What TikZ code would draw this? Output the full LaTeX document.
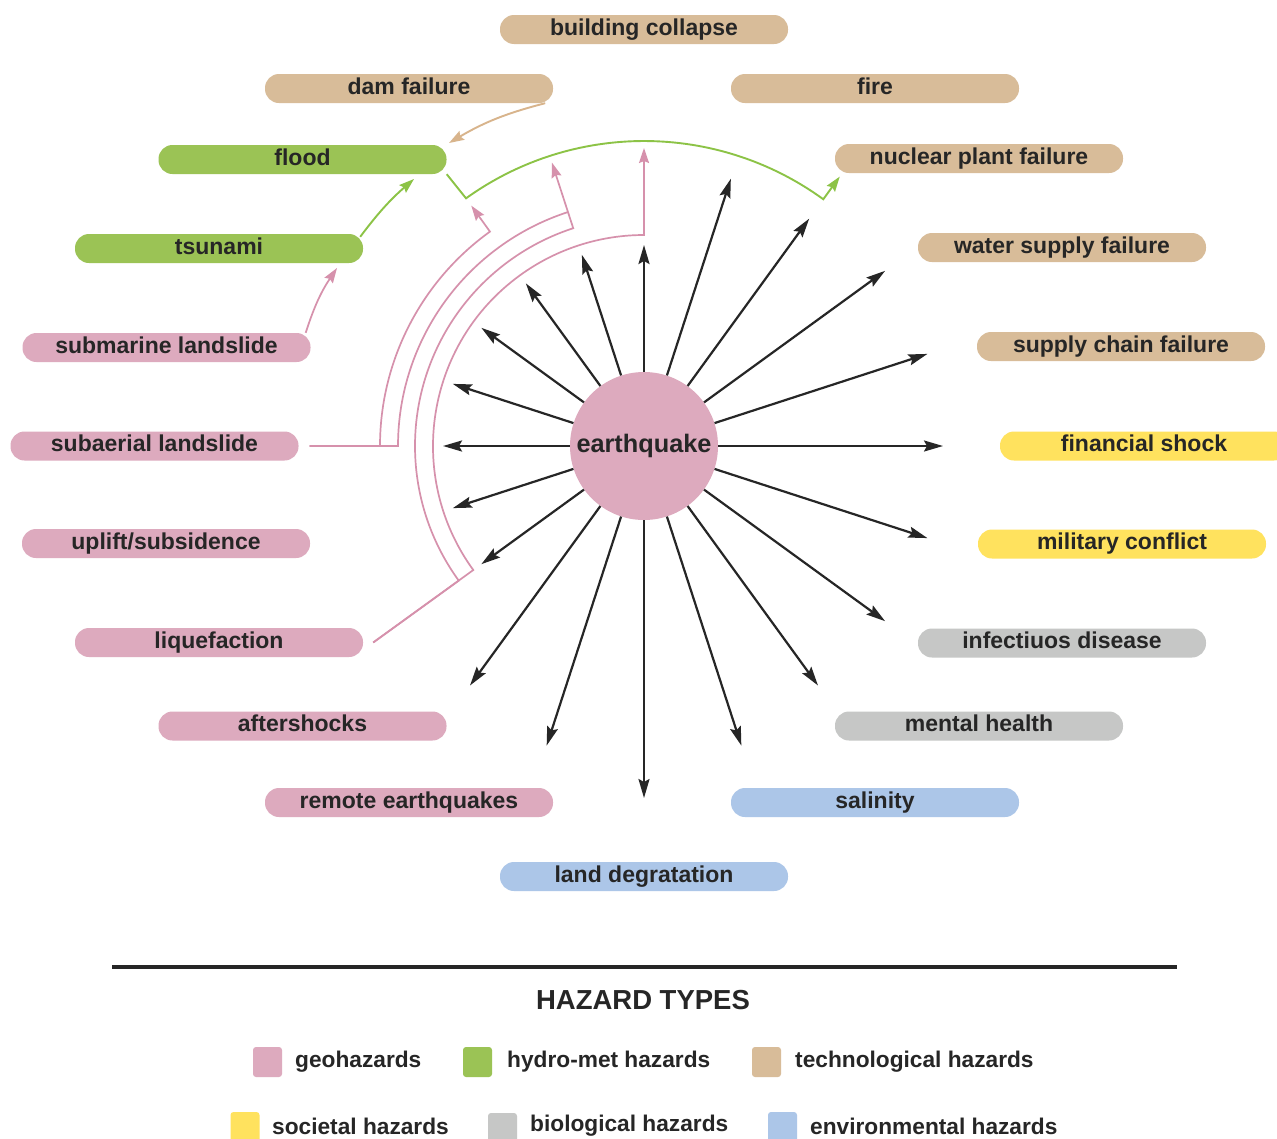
\documentclass[tikz,border=0pt]{standalone}
\usepackage{fontspec}
\setmainfont{Liberation Sans}
\usetikzlibrary{calc,arrows.meta}
\definecolor{pinkc}{RGB}{221,170,190}
\definecolor{greenc}{RGB}{155,195,85}
\definecolor{tanc}{RGB}{216,188,153}
\definecolor{yellowc}{RGB}{255,226,94}
\definecolor{greyc}{RGB}{198,199,198}
\definecolor{bluec}{RGB}{172,198,232}
\definecolor{pinkl}{RGB}{214,145,172}
\definecolor{greenl}{RGB}{140,195,70}
\definecolor{tanl}{RGB}{216,180,140}
\definecolor{txt}{RGB}{38,38,38}
\tikzset{
  hz/.style={rectangle, rounded corners=14pt, minimum width=288pt, minimum height=29pt,
    inner sep=0pt, text=txt, text height=16pt, text depth=4.5pt,
    font=\bfseries\fontsize{23}{26}\selectfont},
  geo/.style={hz, fill=pinkc},
  hyd/.style={hz, fill=greenc},
  tec/.style={hz, fill=tanc},
  soc/.style={hz, fill=yellowc},
  bio/.style={hz, fill=greyc},
  env/.style={hz, fill=bluec},
  blk/.style={draw=txt, line width=2.2pt, -{Stealth[length=19pt,width=11pt,inset=3pt]}},
  ctip/.style={-{Stealth[length=15pt,width=10pt,inset=2pt]}},
  pkl/.style={draw=pinkl, line width=1.7pt},
  grl/.style={draw=greenl, line width=1.9pt},
  tnl/.style={draw=tanl, line width=1.9pt},
  sw/.style={rectangle, rounded corners=3pt, minimum width=29pt, minimum height=30pt, inner sep=0pt},
  lg/.style={text=txt, inner sep=0pt, anchor=base west, font=\bfseries\fontsize{22.7}{26}\selectfont}
}
\begin{document}
\begin{tikzpicture}[x=1pt,y=1pt]
\useasboundingbox[fill=white] (0,0) rectangle (1277,-1138);

% hazard nodes
\node[tec] (bc)   at (644,-29.5)   {building collapse};
\node[tec] (dam)  at (409,-88.5)   {dam failure};
\node[tec] (fire) at (875,-88.5)   {fire};
\node[hyd] (flood) at (302.5,-159.5) {flood};
\node[tec] (npf)  at (979,-158.5)  {nuclear plant failure};
\node[hyd] (tsu)  at (219,-248.5)  {tsunami};
\node[tec] (wsf)  at (1062,-247.5) {water supply failure};
\node[geo] (sml)  at (166.5,-347.5) {submarine landslide};
\node[tec] (scf)  at (1121,-346.5) {supply chain failure};
\node[geo] (sal)  at (154.5,-446)  {subaerial landslide};
\node[soc] (fin)  at (1144,-446)   {financial shock};
\node[geo] (upl)  at (166,-543.5)  {uplift/subsidence};
\node[soc] (mil)  at (1122,-544)   {military conflict};
\node[geo] (liq)  at (219,-642.5)  {liquefaction};
\node[bio] (inf)  at (1062,-643)   {infectiuos disease};
\node[geo] (aft)  at (302.5,-726)  {aftershocks};
\node[bio] (mh)   at (979,-726)    {mental health};
\node[geo] (rem)  at (409,-802.5)  {remote earthquakes};
\node[env] (sali) at (875,-802.5)  {salinity};
\node[env] (ld)   at (644,-876.5)  {land degratation};

% earthquake
\node[circle, fill=pinkc, minimum size=148pt, inner sep=0pt, text=txt,
      font=\bfseries\fontsize{25.3}{30}\selectfont] (E) at (644,-446) {earthquake};

% black radial arrows
\foreach \a/\rr in {0/299,18/298,36/298,54/281,72/281,90/201,108/201,126/201,144/201,162/201,
                    180/201,198/201,216/201,234/296,252/315,270/352,288/315,306/296,324/298,342/298}{
  \coordinate (t\a) at ($(E)+(\a:\rr)$);
  \draw[blk] (E.\a) -- (t\a);
}

% free ends of coloured connectors
\coordinate (pa1) at ($(E)+(125.7:296)$);
\coordinate (pa2) at ($(E)+(108:298)$);
\coordinate (pa3) at ($(E)+(90:298)$);
\coordinate (ga1) at ($(E)+(54:333)$);
\coordinate (pt1) at (337,-268);
\coordinate (gt1) at (414,-179);
\coordinate (dt1) at (449,-143);

% pink connectors
\draw[pkl] ([xshift=11pt]sal.east) -- ($(E)+(180:246)$) arc[start angle=180, end angle=108, radius=246];
\draw[pkl, ctip, pinkl] ([xshift=11pt]sal.east) -- ($(E)+(180:264)$) arc[start angle=180, end angle=125.7, radius=264] -- (pa1);
\draw[pkl, ctip, pinkl] ([xshift=10pt]liq.east) -- ($(E)+(216:229)$) arc[start angle=216, end angle=108, radius=229] -- (pa2);
\draw[pkl, ctip, pinkl] ([xshift=10pt]liq.east) -- ($(E)+(216:211)$) arc[start angle=216, end angle=90, radius=211] -- (pa3);
\draw[pkl, ctip, pinkl] ([xshift=-5pt]sml.north east) to[bend left=8] (pt1);

% green connectors
\draw[grl, ctip, greenl] (tsu.north east) ++(-3,-3) to[bend left=6] (gt1);
\draw[grl, ctip, greenl] (flood.south east) -- ($(E)+(125.7:305)$) arc[start angle=125.7, end angle=54, radius=305] -- (ga1);

% tan connector
\draw[tnl, ctip, tanl] ([xshift=-8pt]dam.south east) to[bend right=8] (dt1);

% legend
\coordinate (la) at (112,-967);
\coordinate (lb) at (1177,-967);
\draw[line width=4pt, draw=txt] (la) -- (lb);
\node[text=txt, font=\bfseries\fontsize{27.5}{32}\selectfont] (ht) at (643,-1000) {HAZARD TYPES};

\node[sw, fill=pinkc]   (s1) at (267.5,-1062) {};
\node[lg] (l1) at (295,-1067) {geohazards};
\node[sw, fill=greenc]  (s2) at (477.5,-1062) {};
\node[lg] (l2) at (507,-1067) {hydro-met hazards};
\node[sw, fill=tanc]    (s3) at (766.5,-1062) {};
\node[lg] (l3) at (795,-1067) {technological hazards};

\node[sw, fill=yellowc] (s4) at (245,-1127) {};
\node[lg] (l4) at (272,-1134) {societal hazards};
\node[sw, fill=greyc]   (s5) at (502.5,-1128) {};
\node[lg] (l5) at (530,-1131) {biological hazards};
\node[sw, fill=bluec]   (s6) at (782.5,-1127) {};
\node[lg] (l6) at (810,-1134) {environmental hazards};
\end{tikzpicture}
\end{document}
